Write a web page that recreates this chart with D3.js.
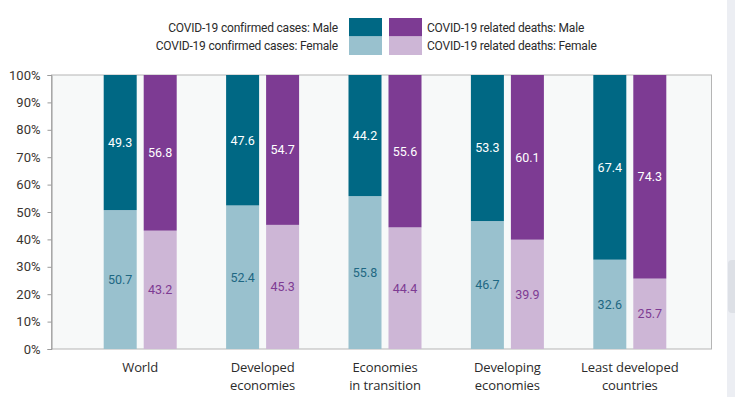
<!DOCTYPE html>
<html>
<head>
<meta charset="utf-8">
<script src="https://cdn.jsdelivr.net/npm/d3@7"></script>
<style>
  body { margin: 0; background: #fff; }
  text { font-family: Roboto, "Noto Sans", sans-serif; }
</style>
</head>
<body>
<svg id="chart" width="735" height="397"></svg>
<script>
const groups = ["World", "Developed economies", "Economies in transition", "Developing economies", "Least developed countries"];
const groupLines = [["World"], ["Developed", "economies"], ["Economies", "in transition"], ["Developing", "economies"], ["Least developed", "countries"]];
const casesMale = [49.3, 47.6, 44.2, 53.3, 67.4];
const casesFemale = [50.7, 52.4, 55.8, 46.7, 32.6];
const deathsMale = [56.8, 54.7, 55.6, 60.1, 74.3];
const deathsFemale = [43.2, 45.3, 44.4, 39.9, 25.7];
const yTicks = [0, 10, 20, 30, 40, 50, 60, 70, 80, 90, 100];

const col = {
  cm: "#006884", cf: "#99c1ce",
  dm: "#7d3b93", df: "#cdb6d6"
};

const svg = d3.select("#chart");
const plot = { left: 51.5, right: 711.5, top: 75, bottom: 349 };

// right-side strip (page edge)
svg.append("rect").attr("x", 727).attr("y", 0).attr("width", 8).attr("height", 397).attr("fill", "#eceef3");
svg.append("rect").attr("x", 728).attr("y", 260).attr("width", 12).attr("height", 53).attr("rx", 4).attr("fill", "#dde0e6");

// plot background
svg.append("rect")
  .attr("x", plot.left).attr("y", plot.top)
  .attr("width", plot.right - plot.left).attr("height", plot.bottom - plot.top)
  .attr("fill", "#f7f9f9").attr("stroke", "#b5b5b5").attr("stroke-width", 1);

const x = d3.scaleBand().domain(groups).range([79, 691]).padding(0);
const y = d3.scaleLinear().domain([0, 100]).range([plot.bottom, plot.top]);
const barW = 33, gap = 7;

// y axis
const yAxis = svg.append("g")
  .attr("transform", `translate(${plot.left},0)`)
  .call(d3.axisLeft(y).tickValues(yTicks).tickFormat(d => d + "%").tickSize(4).tickPadding(7));
yAxis.select(".domain").attr("stroke", "#9a9a9a");
yAxis.selectAll(".tick line").attr("stroke", "#9a9a9a");
yAxis.selectAll(".tick text").attr("fill", "#3b3530").attr("font-size", "13px")
  .style("font-family", "Roboto, sans-serif");

const series = [
  { key: "c", dx: -gap / 2 - barW, male: casesMale, female: casesFemale, mc: col.cm, fc: col.cf, fl: "#1e6782" },
  { key: "d", dx: gap / 2, male: deathsMale, female: deathsFemale, mc: col.dm, fc: col.df, fl: "#7d3b93" }
];

series.forEach(s => {
  const g = svg.append("g");
  groups.forEach((grp, i) => {
    const cx = x(grp) + x.bandwidth() / 2 + s.dx;
    const f = s.female[i], m = s.male[i];
    g.append("rect").attr("x", cx).attr("width", barW)
      .attr("y", y(f)).attr("height", y(0) - y(f)).attr("fill", s.fc);
    g.append("rect").attr("x", cx).attr("width", barW)
      .attr("y", y(100)).attr("height", y(f) - y(100)).attr("fill", s.mc);
    g.append("text").attr("x", cx + barW / 2).attr("y", (y(100) + y(f)) / 2)
      .attr("dy", "0.35em").attr("text-anchor", "middle")
      .attr("font-size", "12.5px").attr("fill", "#fff").text(m.toFixed(1));
    g.append("text").attr("x", cx + barW / 2).attr("y", (y(f) + y(0)) / 2)
      .attr("dy", "0.35em").attr("text-anchor", "middle")
      .attr("font-size", "12.5px").attr("fill", s.fl).text(f.toFixed(1));
  });
});

// x labels
groups.forEach((grp, i) => {
  const t = svg.append("text")
    .attr("x", x(grp) + x.bandwidth() / 2).attr("y", 372)
    .attr("text-anchor", "middle").attr("font-size", "13px").attr("fill", "#2b2b2b")
    .style("font-family", "'Open Sans', sans-serif").style("letter-spacing", "-0.1px");
  groupLines[i].forEach((ln, j) => {
    t.append("tspan").attr("x", x(grp) + x.bandwidth() / 2).attr("dy", j === 0 ? 0 : 18).text(ln);
  });
});

// legend
const legend = svg.append("g").style("font-family", "'Open Sans', sans-serif");
const lgItems = [
  { label: "COVID-19 confirmed cases: Male", c: col.cm, sx: 349, row: 0, side: "left" },
  { label: "COVID-19 confirmed cases: Female", c: col.cf, sx: 349, row: 1, side: "left" },
  { label: "COVID-19 related deaths: Male", c: col.dm, sx: 389, row: 0, side: "right" },
  { label: "COVID-19 related deaths: Female", c: col.df, sx: 389, row: 1, side: "right" }
];
lgItems.forEach(d => {
  const ry = 18 + d.row * 18.5;
  legend.append("rect").attr("x", d.sx).attr("y", ry).attr("width", 33).attr("height", 18.5).attr("fill", d.c);
  legend.append("text")
    .attr("x", d.side === "left" ? 338 : 427).attr("y", ry + 9.5).attr("dy", "0.35em")
    .attr("text-anchor", d.side === "left" ? "end" : "start")
    .attr("font-size", "12px").attr("fill", "#2b2b2b").style("letter-spacing", "-0.2px")
    .text(d.label);
});
</script>
</body>
</html>
